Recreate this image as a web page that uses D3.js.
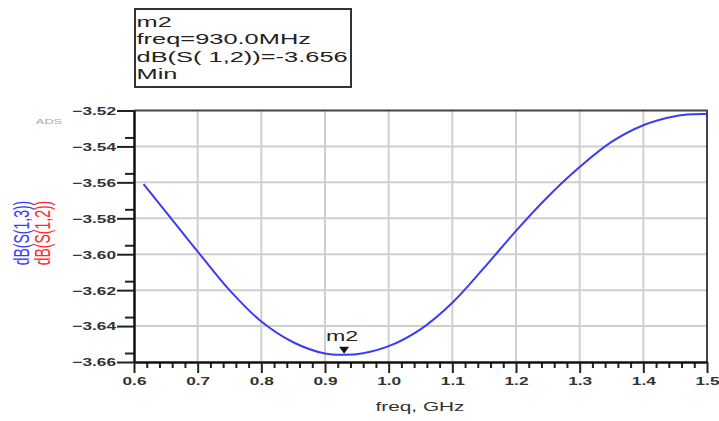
<!DOCTYPE html>
<html><head><meta charset="utf-8">
<script src="https://cdn.jsdelivr.net/npm/d3@7"></script>
<style>body{margin:0;background:#fff;}svg{display:block;font-family:"Liberation Sans",Arial,sans-serif;}</style>
</head><body>
<svg id="c" width="719" height="421"></svg>
<script>
// ---- data ----
const freqGHz = [0.615, 0.65, 0.70, 0.75, 0.80, 0.85, 0.90, 0.93, 0.96, 1.00, 1.05, 1.10, 1.15, 1.20, 1.25, 1.30, 1.35, 1.40, 1.45, 1.48, 1.50];
const dBS12   = [-3.5610, -3.5765, -3.5985, -3.6200, -3.6375, -3.6490, -3.6553, -3.6560, -3.6551, -3.6512, -3.6418, -3.6270, -3.6075, -3.5870, -3.5680, -3.5515, -3.5375, -3.5282, -3.5232, -3.5221, -3.5220];
const xTicks = [0.6, 0.7, 0.8, 0.9, 1.0, 1.1, 1.2, 1.3, 1.4, 1.5];
const yTicks = [-3.52, -3.54, -3.56, -3.58, -3.60, -3.62, -3.64, -3.66];
const markerName = "m2";
const markerFreq = 0.93;
const markerVal = -3.656;
const markerLines = ["m2", "freq=930.0MHz", "dB(S( 1,2))=-3.656", "Min"];
const yLabels = [{t: "dB(S(1,3))", c: "#3b3bff"}, {t: "dB(S(1,2))", c: "#ff2a2a"}];
const xTitle = "freq, GHz";

const S = 1.6; // horizontal stretch of the reference rendering
const svg = d3.select("#c");
const L = 134, R = 707, T = 110.5, B = 362;
const x = d3.scaleLinear().domain([0.6, 1.5]).range([L, R]);
const y = d3.scaleLinear().domain([-3.66, -3.52]).range([B, T]);

function stext(sel, px, py, str, o) {
  o = o || {};
  return sel.append("text")
    .attr("transform", `translate(${px},${py}) scale(${o.s || S},1)` + (o.rot ? ` rotate(${o.rot})` : ""))
    .attr("text-anchor", o.anchor || "start")
    .attr("font-size", o.size || 12)
    .attr("font-weight", o.weight || "normal")
    .attr("fill", o.fill || "#222")
    .text(str);
}

// gridlines
const grid = svg.append("g").attr("stroke", "#cfcfcf").attr("stroke-width", 2);
grid.selectAll("line.v").data(xTicks.slice(1, -1)).join("line")
  .attr("x1", d => x(d)).attr("x2", d => x(d)).attr("y1", T).attr("y2", B);
grid.selectAll("line.h").data(yTicks.slice(1, -1)).join("line")
  .attr("x1", L).attr("x2", R).attr("y1", d => y(d)).attr("y2", d => y(d));

// frame top/right
svg.append("path").attr("d", `M${L},${T}H${R}V${B}`).attr("fill", "none").attr("stroke", "#444").attr("stroke-width", 2);

// minor ticks
const yMinor = d3.range(-3.655, -3.52, 0.02).map(v => +v.toFixed(3));
const xMinor = d3.range(0.62, 1.5, 0.02).map(v => +v.toFixed(2)).filter(v => Math.abs(v * 10 - Math.round(v * 10)) > 1e-6);
svg.append("g").attr("transform", `translate(${L},0)`)
  .call(d3.axisLeft(y).tickValues(yMinor).tickSize(9).tickFormat(""))
  .call(g => g.select(".domain").remove())
  .selectAll("line").attr("stroke", "#222").attr("stroke-width", 2);
svg.append("g").attr("transform", `translate(0,${B})`)
  .call(d3.axisBottom(x).tickValues(xMinor).tickSize(6).tickFormat(""))
  .call(g => g.select(".domain").remove())
  .selectAll("line").attr("stroke", "#222").attr("stroke-width", 2);

// major axes
const ya = svg.append("g").attr("transform", `translate(${L},0)`)
  .call(d3.axisLeft(y).tickValues(yTicks).tickSize(17).tickPadding(0).tickSizeOuter(0).tickFormat(d3.format(".2f")));
ya.select(".domain").attr("stroke", "#111").attr("stroke-width", 2.5);
ya.selectAll("line").attr("stroke", "#222").attr("stroke-width", 2);
ya.selectAll("text").attr("x", -18 / S).attr("dy", "0.36em").attr("transform", `scale(${S},1)`)
  .attr("font-size", 10.8).attr("font-weight", "bold").attr("fill", "#333").attr("font-family", "Liberation Sans, Arial, sans-serif");

const xa = svg.append("g").attr("transform", `translate(0,${B})`)
  .call(d3.axisBottom(x).tickValues(xTicks).tickSize(11).tickPadding(4).tickSizeOuter(0).tickFormat(d3.format(".1f")));
xa.select(".domain").attr("stroke", "#111").attr("stroke-width", 2.5);
xa.selectAll("line").attr("stroke", "#222").attr("stroke-width", 2);
xa.selectAll("text").attr("transform", `scale(${S},1)`)
  .attr("font-size", 10.8).attr("font-weight", "bold").attr("fill", "#333").attr("font-family", "Liberation Sans, Arial, sans-serif");

// curve
const pts = freqGHz.map((f, i) => [f, dBS12[i]]);
svg.append("path").datum(pts)
  .attr("fill", "none").attr("stroke", "#3c3cf5").attr("stroke-width", 2)
  .attr("d", d3.line().x(d => x(d[0])).y(d => y(d[1])).curve(d3.curveCatmullRom.alpha(0.5)));

// marker
const mx = x(markerFreq), my = y(markerVal);
svg.append("path").attr("d", `M${mx - 5},${my - 8}L${mx + 5},${my - 8}L${mx},${my - 1}Z`).attr("fill", "#111");
stext(svg, mx - 2, my - 14, markerName, {anchor: "middle", size: 14.5, fill: "#222"});

// marker readout box
svg.append("rect").attr("x", 135).attr("y", 9).attr("width", 216).attr("height", 78)
  .attr("fill", "none").attr("stroke", "#333").attr("stroke-width", 2);
markerLines.forEach((t, i) => stext(svg, 136.5, 27 + i * 17.3, t, {size: 15.5, s: 1.64, fill: "#222"}));

// ADS watermark
stext(svg, 49, 124, "ADS", {anchor: "middle", size: 8, fill: "#aaa"});

// y labels
yLabels.forEach((l, i) => stext(svg, 29 + i * 21, 233, l.t, {anchor: "middle", size: 14, rot: -90, fill: l.c}));

// x title
stext(svg, 420, 411, xTitle, {anchor: "middle", size: 13, fill: "#333"});
</script>
</body></html>
